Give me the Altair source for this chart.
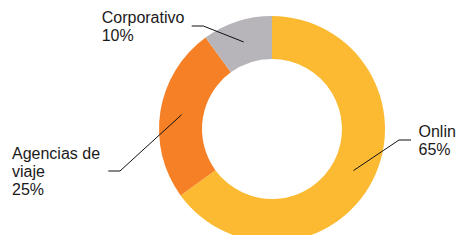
import altair as alt
import pandas as pd

# Data
categories = ["Online", "Agencias de viaje", "Corporativo"]
values = [65, 25, 10]
label_lines = ["Online", "Agencias de\nviaje", "Corporativo"]

# Styling / layout (kept apart from the data)
colors = ["#FBBA31", "#F58026", "#B7B5BA"]
CX, CY = 264, 121          # donut centre (px, inside the svg)
R_OUT, R_IN = 113, 70
# elbow point of leader line, end of the short horizontal, and label anchor (px)
elbow_x = [391, 112, 195.3]
elbow_y = [132, 163, 18]
end_x = [403, 100.3, 183.7]
text_x = [410.5, 4, 93.7]
text_y = [128.7, 151.3, 15.3]

df = pd.DataFrame({
    "categoria": categories,
    "valor": values,
    "nombre": label_lines,
    "idx": list(range(len(categories))),
    "ex": elbow_x,
    "ey": elbow_y,
    "hx": end_x,
    "tx": text_x,
    "ty": text_y,
})

base = alt.Chart(df)

arc = base.mark_arc(outerRadius=R_OUT, innerRadius=R_IN).encode(
    theta=alt.Theta("valor:Q", stack=True),
    color=alt.Color("categoria:N", scale=alt.Scale(domain=categories, range=colors), legend=None),
    order=alt.Order("idx:Q"),
    x=alt.value(CX),
    y=alt.value(CY),
)

geo = base.transform_joinaggregate(total="sum(valor)").transform_window(
    cum="sum(valor)", sort=[alt.SortField("idx")], frame=[None, 0]
).transform_calculate(
    ang="(datum.cum - datum.valor/2) / datum.total * 2 * PI",
    ax=f"{CX} + {(R_OUT + R_IN) / 2} * sin(datum.ang)",
    ay=f"{CY} - {(R_OUT + R_IN) / 2} * cos(datum.ang)",
    etiqueta="datum.nombre + '\\n' + format(datum.valor / datum.total, '.0%')",
)

diag = geo.mark_rule(color="#111111", strokeWidth=1).encode(
    x=alt.X("ax:Q", scale=None),
    y=alt.Y("ay:Q", scale=None),
    x2="ex:Q",
    y2="ey:Q",
)

horiz = geo.mark_rule(color="#111111", strokeWidth=1).encode(
    x=alt.X("ex:Q", scale=None),
    y=alt.Y("ey:Q", scale=None),
    x2="hx:Q",
    y2="ey:Q",
)

labels = geo.mark_text(
    align="left", baseline="alphabetic", fontSize=16, lineHeight=18,
    font="Liberation Sans", color="#1a1a1a", lineBreak="\n",
).encode(
    x=alt.X("tx:Q", scale=None),
    y=alt.Y("ty:Q", scale=None),
    text="etiqueta:N",
)

chart = alt.layer(arc, diag, horiz, labels).properties(
    width=448, height=227, padding=0,
    autosize=alt.AutoSizeParams(type="none"),
).configure_view(stroke=None)

chart.save("out.html", embed_options={"renderer": "svg", "actions": False})
